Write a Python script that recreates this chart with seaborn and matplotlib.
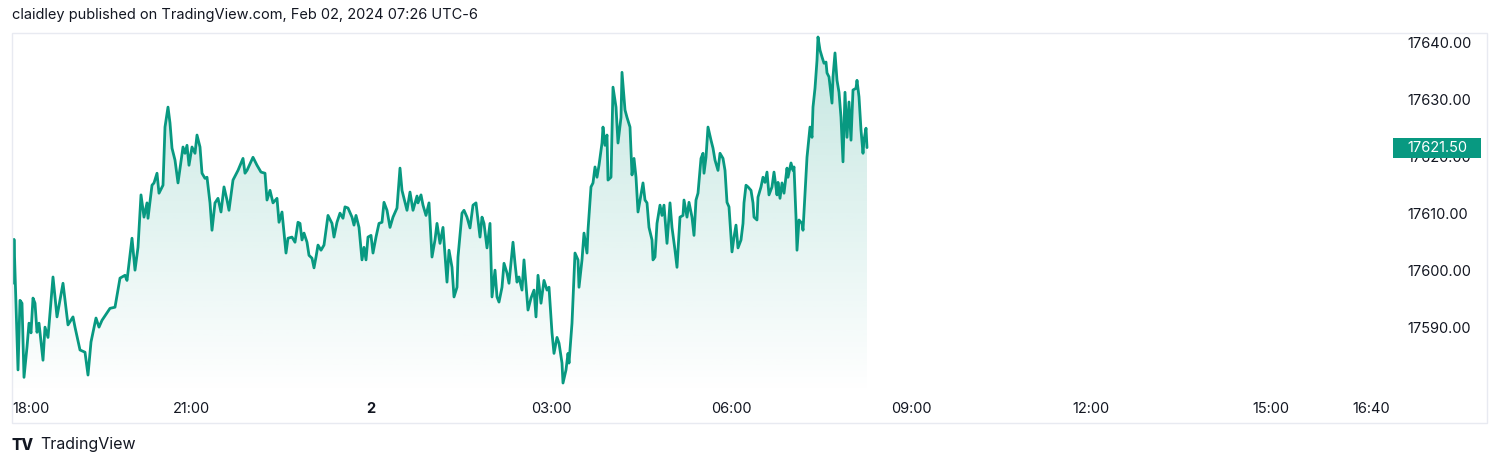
import numpy as np
import pandas as pd
import matplotlib.pyplot as plt
import matplotlib.dates as mdates
import matplotlib.transforms as mtransforms
from matplotlib.patches import Rectangle
import seaborn as sns

# minutes after 18:00 (Feb 1) and last price
minutes = [2, 3, 7, 9, 11, 13, 16, 18, 20, 22, 24, 26, 28, 32, 34, 37, 42, 46, 52, 57,
           62, 64, 69, 74, 77, 80, 85, 88, 91, 96, 99, 104, 109, 114, 116, 121, 124, 127, 130, 133,
           136, 137, 141, 143, 146, 148, 152, 154, 157, 159, 161, 164, 167, 172, 174, 176, 178, 181, 184, 186,
           189, 191, 194, 196, 199, 201, 204, 207, 210, 213, 216, 218, 222, 227, 232, 234, 236, 242, 246, 250,
           254, 256, 259, 262, 266, 268, 271, 275, 277, 281, 284, 287, 289, 291, 293, 296, 298, 301, 303, 305,
           307, 310, 313, 317, 321, 323, 326, 329, 332, 334, 337, 341, 343, 345, 348, 351, 353, 355, 357, 360,
           362, 365, 368, 371, 373, 376, 379, 382, 386, 389, 391, 394, 396, 399, 402, 406, 407, 410, 412, 415,
           418, 421, 424, 426, 429, 432, 436, 438, 441, 443, 446, 447, 449, 451, 453, 456, 459, 462, 465, 467,
           469, 471, 473, 476, 479, 481, 484, 486, 488, 491, 493, 496, 498, 502, 504, 506, 508, 511, 513, 517,
           520, 523, 525, 527, 530, 533, 536, 538, 541, 543, 546, 548, 551, 552, 555, 557, 558, 561, 564, 567,
           568, 571, 573, 576, 577, 580, 582, 584, 586, 588, 591, 592, 594, 596, 597, 600, 602, 605, 607, 610,
           611, 614, 616, 619, 621, 623, 625, 627, 630, 632, 634, 636, 638, 641, 642, 644, 646, 649, 651, 653,
           656, 659, 661, 664, 666, 669, 672, 673, 676, 678, 681, 683, 685, 687, 690, 692, 693, 695, 697, 700,
           702, 704, 707, 709, 712, 714, 716, 718, 721, 723, 725, 727, 730, 732, 733, 735, 737, 740, 742, 743,
           746, 747, 750, 752, 754, 756, 758, 761, 763, 766, 767, 769, 771, 773, 776, 777, 780, 782, 783, 785,
           786, 788, 791, 792, 794, 796, 799, 801, 802, 804, 806, 807, 809, 811, 813, 815, 816, 818, 821, 822,
           824, 826, 828, 830, 832, 834, 836, 838, 840, 842, 845, 846, 848, 850, 852, 853, 855, 856]
prices = [17597.7, 17605.4, 17582.5, 17594.7, 17594.2, 17581.2, 17586.5, 17590.7, 17589.0, 17595.1,
          17594.2, 17589.1, 17590.7, 17584.2, 17590.0, 17588.2, 17598.8, 17591.8, 17597.7, 17590.4,
          17591.8, 17590.0, 17586.0, 17585.6, 17581.6, 17587.4, 17591.6, 17590.0, 17591.2, 17592.5,
          17593.3, 17593.5, 17598.6, 17599.1, 17598.2, 17605.6, 17600.0, 17604.0, 17613.2, 17609.3,
          17611.8, 17609.1, 17614.9, 17615.3, 17617.0, 17613.5, 17614.9, 17625.1, 17628.6, 17625.8,
          17621.4, 17619.3, 17615.3, 17621.6, 17620.5, 17621.9, 17618.4, 17621.6, 17620.5, 17623.7,
          17621.6, 17617.0, 17616.1, 17616.3, 17611.8, 17607.0, 17611.8, 17612.6, 17610.2, 17614.6,
          17612.3, 17610.5, 17615.8, 17617.5, 17619.6, 17617.0, 17617.5, 17619.8, 17618.4, 17617.2,
          17617.0, 17612.3, 17614.0, 17611.8, 17612.6, 17608.4, 17610.2, 17603.0, 17605.6, 17605.8,
          17604.9, 17608.4, 17608.2, 17605.3, 17606.5, 17604.9, 17602.6, 17602.1, 17600.4, 17602.3,
          17604.4, 17603.5, 17604.4, 17609.6, 17608.2, 17605.8, 17608.4, 17610.0, 17609.1, 17611.1,
          17610.9, 17609.3, 17607.9, 17609.6, 17607.5, 17601.8, 17604.0, 17601.8, 17605.8, 17606.1,
          17603.0, 17605.8, 17608.2, 17608.4, 17611.9, 17610.5, 17607.5, 17609.3, 17610.9, 17617.9,
          17614.0, 17611.9, 17610.5, 17613.7, 17610.5, 17613.0, 17611.8, 17613.2, 17611.4, 17609.6,
          17611.8, 17602.3, 17605.3, 17608.2, 17604.7, 17607.5, 17597.9, 17603.5, 17600.5, 17595.3,
          17597.0, 17602.3, 17606.1, 17610.0, 17610.5, 17609.3, 17607.4, 17611.4, 17611.8, 17608.8,
          17605.8, 17609.3, 17608.2, 17603.9, 17608.2, 17595.3, 17600.0, 17595.3, 17594.4, 17597.0,
          17601.2, 17599.5, 17597.7, 17604.9, 17601.2, 17597.9, 17598.8, 17596.5, 17601.8, 17593.0,
          17595.1, 17596.5, 17591.8, 17599.1, 17594.2, 17598.2, 17596.5, 17597.0, 17589.0, 17585.4,
          17588.2, 17587.2, 17583.7, 17580.2, 17582.5, 17585.4, 17583.7, 17590.7, 17603.0, 17601.8,
          17597.0, 17601.8, 17606.5, 17603.0, 17607.0, 17614.6, 17615.3, 17618.1, 17616.3, 17618.4,
          17622.3, 17625.1, 17621.9, 17623.7, 17615.8, 17616.3, 17632.1, 17628.6, 17622.3, 17626.8,
          17634.7, 17628.1, 17626.8, 17625.1, 17616.7, 17619.6, 17616.3, 17610.2, 17613.2, 17615.3,
          17612.3, 17611.8, 17607.5, 17605.3, 17601.8, 17602.3, 17608.2, 17611.4, 17609.6, 17611.4,
          17604.7, 17611.8, 17607.5, 17603.5, 17600.5, 17609.3, 17609.6, 17612.3, 17609.3, 17611.9,
          17609.3, 17606.1, 17612.3, 17613.5, 17619.6, 17620.5, 17617.0, 17619.8, 17625.1, 17622.8,
          17621.4, 17619.3, 17617.5, 17620.5, 17619.6, 17617.5, 17611.9, 17611.1, 17603.2, 17605.8,
          17607.9, 17603.9, 17605.3, 17608.2, 17611.8, 17614.9, 17614.6, 17614.0, 17611.8, 17609.3,
          17608.8, 17612.8, 17614.6, 17616.3, 17615.4, 17617.2, 17613.2, 17614.6, 17617.2, 17613.2,
          17615.4, 17612.6, 17615.3, 17613.5, 17617.9, 17616.3, 17618.8, 17617.5, 17618.1, 17609.3,
          17603.5, 17608.8, 17608.2, 17607.0, 17613.5, 17619.8, 17625.1, 17623.3, 17628.6, 17631.9,
          17636.8, 17640.9, 17638.6, 17637.4, 17636.3, 17636.5, 17634.6, 17633.9, 17629.3, 17633.9,
          17638.1, 17633.3, 17631.2, 17626.8, 17619.0, 17631.2, 17623.3, 17629.5, 17622.8, 17631.6,
          17631.9, 17633.3, 17630.4, 17624.6, 17620.5, 17622.8, 17624.9, 17621.5]

last_price = 17621.50
y_ticks = [17590, 17600, 17610, 17620, 17630, 17640]
x_tick_minutes = [1, 180, 360, 540, 720, 900, 1080, 1260, 1360]
x_tick_labels = ["18:00", "21:00", "2", "03:00", "06:00", "09:00", "12:00", "15:00", "16:40"]

GREEN = "#089981"
TEXT = "#131722"

start = pd.Timestamp("2024-02-01 18:00")
df = pd.DataFrame({"time": start + pd.to_timedelta(minutes, unit="min"), "price": prices})

sns.set_theme(style="white")
plt.rcParams["font.family"] = ["Inter", "DejaVu Sans"]

W, H = 1500, 466
fig = plt.figure(figsize=(15, 4.66), dpi=100)
ax = fig.add_axes([12 / W, 1 - 395 / H, (1395 - 12) / W, (395 - 33) / H])

ymin, ymax = 17578.1, 17641.6
x0 = start + pd.Timedelta(minutes=1)
x1 = start + pd.Timedelta(minutes=1384)

# gradient area under the line
poly = ax.fill_between(df["time"], df["price"], ymin, color="none", lw=0)
grad = np.zeros((256, 1, 4))
grad[:, 0, :3] = (8 / 255, 153 / 255, 129 / 255)
grad[:, 0, 3] = np.linspace(0.0, 0.24, 256)
t0 = mdates.date2num(df["time"].iloc[0])
t1 = mdates.date2num(df["time"].iloc[-1])
im = ax.imshow(grad, extent=[t0, t1, ymin, max(prices)], aspect="auto", origin="lower", zorder=1)
im.set_clip_path(poly.get_paths()[0], transform=ax.transData)

sns.lineplot(data=df, x="time", y="price", ax=ax, color=GREEN, lw=2.0, zorder=3)

ax.set_xlim(x0, x1)
ax.set_ylim(ymin, ymax)
ax.set_xlabel("")
ax.set_ylabel("")
for s in ax.spines.values():
    s.set_visible(False)

ax.set_xticks([start + pd.Timedelta(minutes=m) for m in x_tick_minutes])
ax.set_xticklabels(x_tick_labels)
ax.tick_params(axis="x", length=0, pad=5, labelsize=10.5, labelcolor=TEXT)
labels = ax.get_xticklabels()
labels[0].set_ha("left")
labels[2].set_fontweight("bold")

ax.yaxis.tick_right()
ax.set_yticks(y_ticks)
ax.set_yticklabels([f"{v:.2f}" for v in y_ticks])
ax.tick_params(axis="y", length=0, pad=9, labelsize=10.5, labelcolor=TEXT)

# last price marker on the price scale
blend = mtransforms.blended_transform_factory(ax.transAxes, ax.transData)
ax.add_patch(Rectangle((1 - 2 / 1383, last_price - 1.75), 88 / 1383, 3.5, transform=blend,
                       facecolor=GREEN, edgecolor="none", clip_on=False, zorder=5))
ax.text(1 + 12 / 1383, last_price, f"{last_price:.2f}", transform=blend, color="white",
        fontsize=10.5, va="center", ha="left", zorder=6, clip_on=False)

# outer frame of the chart panel
fig.add_artist(Rectangle((12 / W, 1 - 423 / H), (1487 - 12) / W, (423 - 33) / H,
                         transform=fig.transFigure, fill=False, edgecolor="#e8eaf1", lw=1))

fig.text(12 / W, 1 - 15 / H, "claidley published on TradingView.com, Feb 02, 2024 07:26 UTC-6",
         fontsize=10.5, color=TEXT, va="center", ha="left")
fig.text(12 / W, 1 - 445 / H, "TV", fontsize=11, fontweight="heavy", color=TEXT,
         va="center", ha="left")
fig.text(40 / W, 1 - 445 / H, "TradingView", fontsize=11.5, color=TEXT, va="center", ha="left")

fig.savefig("out.png", dpi=100)
